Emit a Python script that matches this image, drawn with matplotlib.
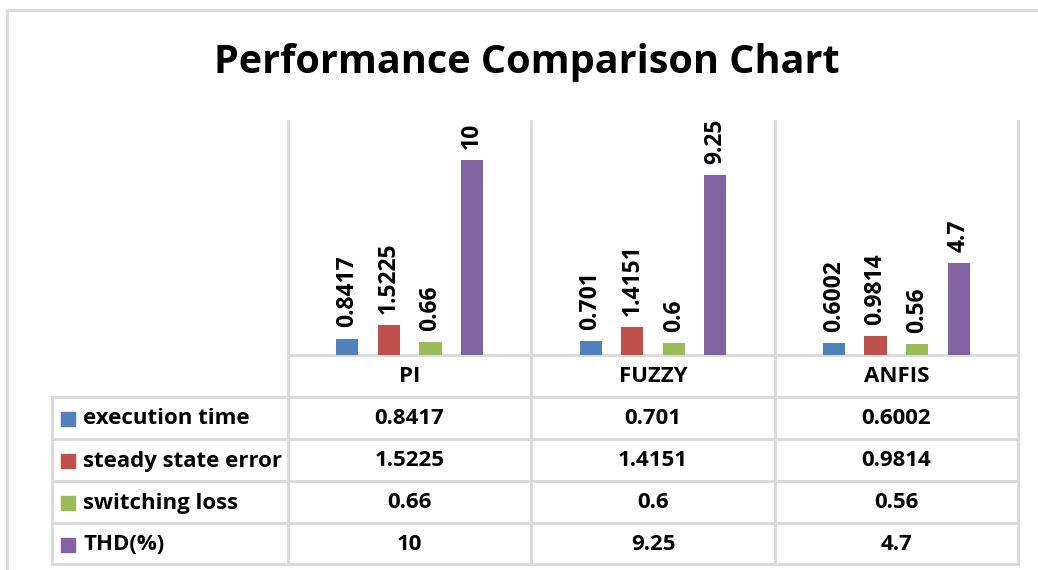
import matplotlib
matplotlib.use('Agg')
import matplotlib.pyplot as plt
import numpy as np

# chart data
categories = ['PI', 'FUZZY', 'ANFIS']
series_names = ['execution time', 'steady state error', 'switching loss', 'THD(%)']
execution_time = [0.8417, 0.701, 0.6002]
steady_state_error = [1.5225, 1.4151, 0.9814]
switching_loss = [0.66, 0.6, 0.56]
thd = [10, 9.25, 4.7]
labels_execution_time = ['0.8417', '0.701', '0.6002']
labels_steady_state_error = ['1.5225', '1.4151', '0.9814']
labels_switching_loss = ['0.66', '0.6', '0.56']
labels_thd = ['10', '9.25', '4.7']

series = [execution_time, steady_state_error, switching_loss, thd]
series_labels = [labels_execution_time, labels_steady_state_error,
                 labels_switching_loss, labels_thd]
colors = ['#4F81BD', '#C0504D', '#9BBB59', '#8064A2']
grid_col = '#D9D9D9'

plt.rcParams['font.family'] = ['Open Sans', 'DejaVu Sans']
plt.rcParams['font.weight'] = 'bold'

W, H = 1038, 570
fig = plt.figure(figsize=(W / 100, H / 100), dpi=100)

# overlay axes in pixel coordinates for frame and data table
over = fig.add_axes([0, 0, 1, 1])
over.set_xlim(0, W)
over.set_ylim(H, 0)
over.axis('off')

# outer chart border
over.plot([7, 7, W], [H, 10, 10], color=grid_col, lw=2)

# plot area in pixels
px0, px1, py0, py1 = 288, 1018, 121, 355
ax = fig.add_axes([px0 / W, 1 - py1 / H, (px1 - px0) / W, (py1 - py0) / H])
ax.set_xlim(0, len(categories))
ax.set_ylim(0, 12)
ax.axis('off')

n = len(series)
step = 0.171
width = 0.091
fs = 16
x = np.arange(len(categories)) + 0.5
for i, (vals, labs, c) in enumerate(zip(series, series_labels, colors)):
    pos = x + (i - (n - 1) / 2) * step
    bars = ax.bar(pos, vals, width=width, color=c, zorder=3)
    for b, lab in zip(bars, labs):
        ax.annotate(lab, (b.get_x() + b.get_width() / 2, b.get_height()),
                    xytext=(0, 8), textcoords='offset points',
                    rotation=90, ha='center', va='bottom',
                    fontsize=16.5, fontweight='bold')

# title
fig.text(527 / W, 1 - 63 / H, 'Performance Comparison Chart',
         ha='center', va='center', fontsize=28.5, fontweight='bold')

# data table grid
col_x = [52, 288, 531, 775, 1018]
row_y = [355, 397, 439, 481, 523, 564]
lw = 2
# vertical lines through plot area and header
for cx in col_x[1:]:
    over.plot([cx, cx], [py0, row_y[-1]], color=grid_col, lw=lw, zorder=1)
over.plot([col_x[0], col_x[0]], [row_y[1], row_y[-1]], color=grid_col, lw=lw)
over.plot([col_x[1], col_x[-1]], [row_y[0], row_y[0]], color=grid_col, lw=lw)
for ry in row_y[1:]:
    over.plot([col_x[0], col_x[-1]], [ry, ry], color=grid_col, lw=lw)

# header labels
for j, cat in enumerate(categories):
    cx = (col_x[j + 1] + col_x[j + 2]) / 2
    over.text(cx, (row_y[0] + row_y[1]) / 2 + 1, cat, ha='center', va='center',
              fontsize=fs, fontweight='bold')

# rows
for i, (name, labs, c) in enumerate(zip(series_names, series_labels, colors)):
    cy = (row_y[i + 1] + row_y[i + 2]) / 2 + 1
    over.add_patch(plt.Rectangle((61, cy - 7), 14, 14, color=c))
    over.text(83, cy, name, ha='left', va='center', fontsize=fs, fontweight='bold')
    for j, lab in enumerate(labs):
        cx = (col_x[j + 1] + col_x[j + 2]) / 2
        over.text(cx, cy, lab, ha='center', va='center',
                  fontsize=fs, fontweight='bold')

fig.savefig('out.png', dpi=100, facecolor='white')
